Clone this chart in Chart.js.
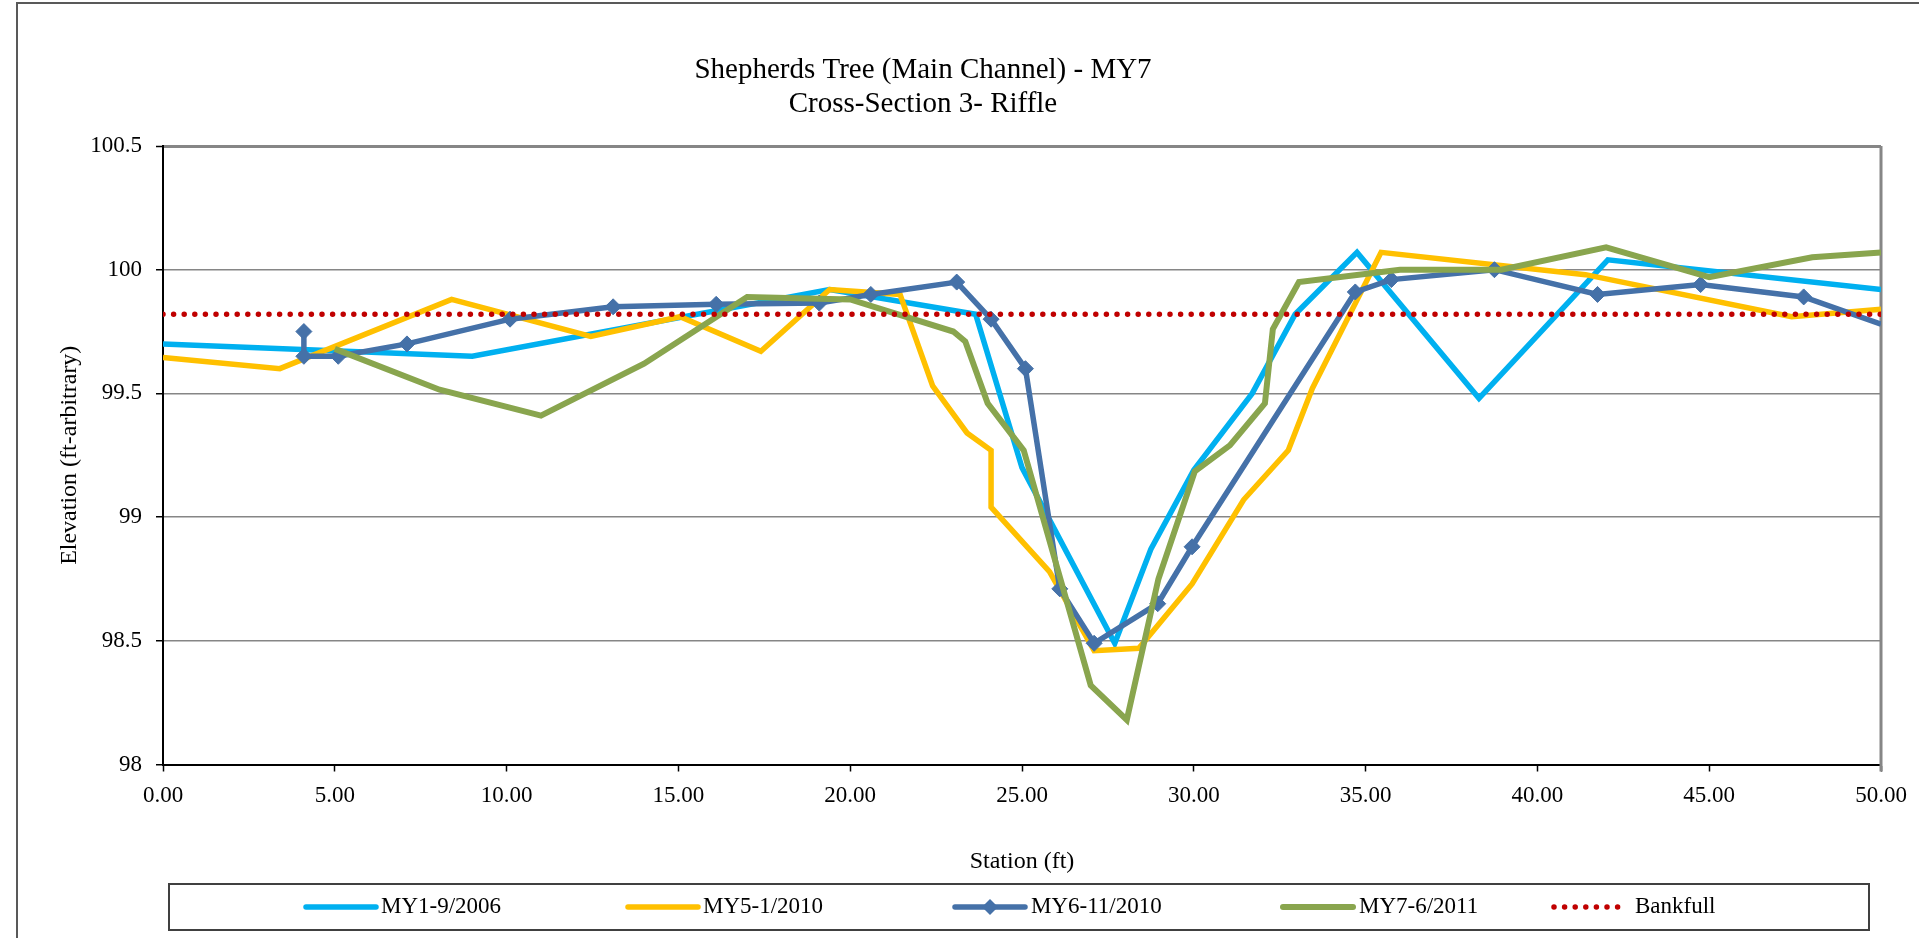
<!DOCTYPE html>
<html>
<head>
<meta charset="utf-8">
<title>Shepherds Tree (Main Channel) - MY7</title>
<script src="https://cdn.jsdelivr.net/npm/chart.js@4.4.1/dist/chart.umd.min.js"></script>
<style>
  html, body { margin: 0; padding: 0; background: #fff; }
  canvas { display: block; }
</style>
</head>
<body>
<canvas id="xsChart" width="1919" height="938"></canvas>
<script>
// Cross-section survey data (station ft, elevation ft-arbitrary)
const seriesNames = ['MY1-9/2006', 'MY5-1/2010', 'MY6-11/2010', 'MY7-6/2011', 'Bankfull'];

const my1Station = [0, 9.0, 19.4, 23.65, 25.0, 27.7, 28.75, 30.0, 31.7, 32.95, 34.75, 38.3, 42.05, 50];
const my1Elev    = [99.70, 99.65, 99.92, 99.82, 99.20, 98.49, 98.87, 99.19, 99.50, 99.82, 100.07, 99.48, 100.04, 99.92];

const my5Station = [0, 3.4, 8.4, 12.45, 15.05, 17.4, 19.4, 21.45, 22.4, 23.4, 24.1, 24.1, 25.8, 27.1, 28.4, 29.95, 31.45, 32.75, 33.45, 35.45, 41.4, 47.4, 50];
const my5Elev    = [99.645, 99.60, 99.88, 99.73, 99.81, 99.67, 99.92, 99.90, 99.53, 99.34, 99.27, 99.04, 98.78, 98.46, 98.47, 98.73, 99.07, 99.27, 99.52, 100.07, 99.98, 99.81, 99.84];

const my6Station = [4.1, 4.1, 5.1, 7.1, 10.1, 13.1, 16.1, 19.1, 20.6, 23.1, 24.1, 25.1, 26.1, 27.1, 28.95, 29.95, 34.7, 35.75, 38.75, 41.75, 44.75, 47.75, 50];
const my6Elev    = [99.75, 99.65, 99.65, 99.70, 99.80, 99.85, 99.86, 99.865, 99.90, 99.95, 99.80, 99.60, 98.71, 98.49, 98.65, 98.88, 99.91, 99.96, 100.00, 99.90, 99.94, 99.89, 99.78];

const my7Station = [5.0, 8.05, 11.0, 14.0, 17.0, 20.0, 23.0, 23.35, 24.0, 25.05, 27.0, 28.05, 28.97, 30.03, 31.05, 32.07, 32.3, 33.06, 36.0, 38.95, 42.0, 45.0, 48.0, 50];
const my7Elev    = [99.68, 99.515, 99.41, 99.62, 99.89, 99.88, 99.75, 99.71, 99.46, 99.27, 98.32, 98.18, 98.75, 99.185, 99.29, 99.46, 99.76, 99.95, 100.0, 100.0, 100.09, 99.97, 100.05, 100.07];

const bankStation = [0, 50];
const bankElev    = [99.82, 99.82];

const xTickLabels = ['0.00', '5.00', '10.00', '15.00', '20.00', '25.00', '30.00', '35.00', '40.00', '45.00', '50.00'];
const yTickLabels = ['98', '98.5', '99', '99.5', '100', '100.5'];

function toPoints(xs, ys) {
  return xs.map((x, i) => ({ x: x, y: ys[i] }));
}

const serif = '"Liberation Serif", "Times New Roman", serif';
Chart.defaults.font.family = serif;
Chart.defaults.color = '#000';

// title, outer frame, plot border and the Excel style legend
const excelFrame = {
  id: 'excelFrame',
  beforeDraw(chart) {
    const c = chart.ctx;
    c.save();
    c.fillStyle = '#fff';
    c.fillRect(0, 0, chart.width, chart.height);
    c.strokeStyle = '#595959';
    c.lineWidth = 2;
    c.beginPath();
    c.moveTo(17, chart.height);
    c.lineTo(17, 3);
    c.lineTo(chart.width, 3);
    c.stroke();
    c.restore();
  },
  beforeDatasetsDraw(chart) {
    const a = chart.chartArea, c = chart.ctx;
    c.save();
    c.strokeStyle = '#868686';
    c.lineWidth = 3;
    c.beginPath();
    c.moveTo(a.right, a.top);
    c.lineTo(a.right, a.bottom + 7);
    c.stroke();
    c.restore();
  },
  afterDraw(chart) {
    const c = chart.ctx;
    c.save();
    // title
    c.fillStyle = '#000';
    c.textAlign = 'center';
    c.textBaseline = 'middle';
    c.font = '29px ' + serif;
    c.fillText('Shepherds Tree (Main Channel) - MY7', 923, 70);
    c.fillText('Cross-Section 3- Riffle', 923, 104);

    // legend
    c.strokeStyle = '#404040';
    c.lineWidth = 2;
    c.strokeRect(169, 884, 1700, 46);
    const lineX = [306, 628, 955, 1283, 1554];
    const textX = [381, 703, 1031, 1359, 1635];
    const ly = 907;
    c.font = '23px ' + serif;
    c.textAlign = 'left';
    chart.data.datasets.forEach((ds, i) => {
      const len = ds.borderDash ? 74 : 70;
      c.strokeStyle = ds.borderColor;
      c.lineWidth = ds.borderWidth;
      c.lineCap = 'round';
      c.setLineDash(ds.borderDash || []);
      c.beginPath();
      c.moveTo(lineX[i], ly);
      c.lineTo(lineX[i] + len, ly);
      c.stroke();
      c.setLineDash([]);
      if (ds.pointStyle === 'rectRot') {
        const cx = lineX[i] + len / 2, r = 8;
        c.fillStyle = ds.borderColor;
        c.beginPath();
        c.moveTo(cx, ly - r); c.lineTo(cx + r, ly); c.lineTo(cx, ly + r); c.lineTo(cx - r, ly);
        c.closePath();
        c.fill();
      }
      c.fillStyle = '#000';
      c.fillText(ds.label, textX[i], ly);
    });
    c.restore();
  }
};

const ctx = document.getElementById('xsChart').getContext('2d');
new Chart(ctx, {
  type: 'scatter',
  data: {
    datasets: [
      {
        label: seriesNames[0],
        data: toPoints(my1Station, my1Elev),
        showLine: true,
        borderColor: '#00B0F0',
        backgroundColor: '#00B0F0',
        borderWidth: 5.5,
        pointRadius: 0,
        order: 5
      },
      {
        label: seriesNames[1],
        data: toPoints(my5Station, my5Elev),
        showLine: true,
        borderColor: '#FFC000',
        backgroundColor: '#FFC000',
        borderWidth: 5.5,
        pointRadius: 0,
        order: 4
      },
      {
        label: seriesNames[2],
        data: toPoints(my6Station, my6Elev),
        showLine: true,
        borderColor: '#4571A8',
        backgroundColor: '#4571A8',
        borderWidth: 5.5,
        pointStyle: 'rectRot',
        pointRadius: c => (c.dataIndex === my6Station.length - 1 ? 0 : 8),
        pointBorderWidth: 1,
        order: 3
      },
      {
        label: seriesNames[3],
        data: toPoints(my7Station, my7Elev),
        showLine: true,
        borderColor: '#89A54E',
        backgroundColor: '#89A54E',
        borderWidth: 6,
        pointRadius: 0,
        order: 2
      },
      {
        label: seriesNames[4],
        data: toPoints(bankStation, bankElev),
        showLine: true,
        borderColor: '#C00000',
        backgroundColor: '#C00000',
        borderWidth: 5.5,
        borderDash: [0, 10.6],
        borderCapStyle: 'round',
        pointRadius: 0,
        order: 1
      }
    ]
  },
  plugins: [excelFrame],
  options: {
    responsive: false,
    animation: false,
    devicePixelRatio: 1,
    layout: { padding: { top: 146, right: 38, bottom: 62, left: 0 } },
    plugins: {
      legend: { display: false },
      tooltip: { enabled: false },
      title: { display: false }
    },
    scales: {
      x: {
        type: 'linear',
        min: 0,
        max: 50,
        ticks: {
          stepSize: 5,
          padding: 11,
          maxRotation: 0,
          autoSkip: false,
          font: { size: 23 },
          callback: (v, i) => xTickLabels[i]
        },
        grid: { drawOnChartArea: false, tickLength: 7, tickColor: '#000', tickWidth: 1.5 },
        border: { color: '#000', width: 2 },
        title: { display: true, text: 'Station (ft)', font: { size: 24 }, padding: { top: 0, bottom: 0 } },
        afterFit: s => { s.height = 111.5; }
      },
      y: {
        type: 'linear',
        min: 98,
        max: 100.5,
        ticks: {
          stepSize: 0.5,
          padding: 14,
          font: { size: 23 },
          callback: (v, i) => yTickLabels[i]
        },
        grid: {
          color: '#868686',
          lineWidth: c => (c.tick && c.tick.value === 100.5 ? 3 : 1.5),
          tickLength: 7,
          tickColor: '#000',
          tickWidth: 1.5
        },
        border: { color: '#000', width: 2 },
        title: { display: true, text: 'Elevation (ft-arbitrary)', font: { size: 24 }, padding: { top: 55, bottom: 0 } },
        afterFit: s => { s.width = 163; }
      }
    }
  }
});
</script>
</body>
</html>
